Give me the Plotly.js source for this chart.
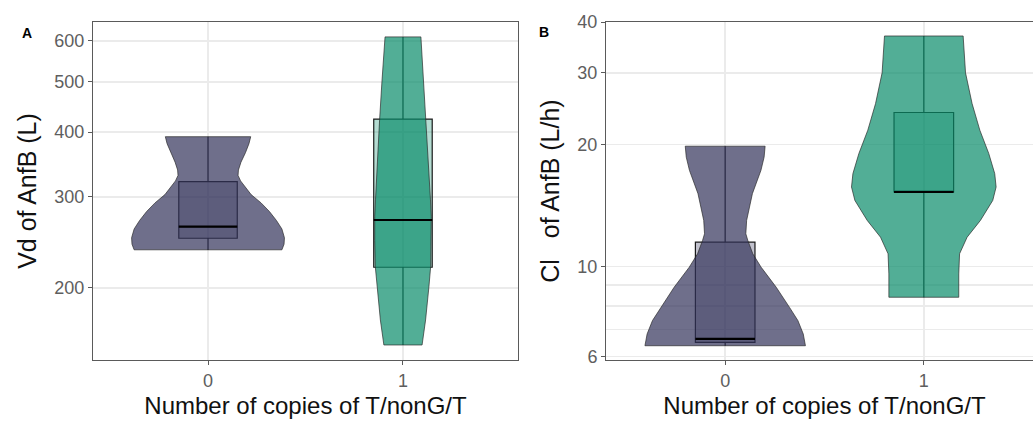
<!DOCTYPE html>
<html>
<head>
<meta charset="utf-8">
<script src="https://cdn.plot.ly/plotly-3.0.1.min.js"></script>
<style>
html,body{margin:0;padding:0;overflow:hidden;background:#fff;}
#chart{width:1045px;height:421px;}
</style>
</head>
<body>
<div id="chart"></div>
<script>
// ---------- data ----------
const categories = [0, 1];
const tickLabels = ['0', '1'];
const colors = ['#32325a', '#088b69'];

// Panel A: Vd of AnfB (L) — violin density profiles (value, half-width)
const vdViolinY0 = [392, 380, 365, 350, 338, 330, 322, 313, 303, 292, 281, 270, 260, 250, 243, 237];
const vdViolinW0 = [0.219, 0.210, 0.192, 0.169, 0.156, 0.154, 0.167, 0.192, 0.221, 0.272, 0.315, 0.351, 0.379, 0.392, 0.390, 0.379];
const vdViolinY1 = [611, 551, 500, 422, 353, 296, 275, 247, 220, 201, 173.5, 155.2];
const vdViolinW1 = [0.092, 0.099, 0.108, 0.120, 0.132, 0.141, 0.145, 0.145, 0.142, 0.133, 0.116, 0.098];
// Panel A box statistics per category
const vdQ1 = [249.5, 219.3];
const vdMedian = [262.7, 270.6];
const vdQ3 = [320.9, 424];
const vdLower = [236.8, 155.2];
const vdUpper = [392, 611];

// Panel B: Cl of AnfB (L/h)
const clViolinY0 = [19.79, 18.6, 17.26, 15.12, 12.99, 12.04, 11.59, 10.75, 9.96, 8.89, 7.93, 7.36, 6.82, 6.38];
const clViolinW0 = [0.201, 0.196, 0.180, 0.137, 0.108, 0.104, 0.114, 0.139, 0.181, 0.257, 0.324, 0.366, 0.393, 0.404];
const clViolinY1 = [36.98, 33.5, 30.0, 25.2, 21.67, 18.98, 16.94, 15.70, 14.55, 12.99, 11.81, 10.75, 9.59, 8.40];
const clViolinW1 = [0.198, 0.205, 0.210, 0.243, 0.282, 0.327, 0.357, 0.364, 0.347, 0.285, 0.218, 0.180, 0.176, 0.176];
const clQ1 = [6.50, 15.26];
const clMedian = [6.63, 15.26];
const clQ3 = [11.48, 23.96];
const clLower = [6.38, 8.40];
const clUpper = [19.79, 36.98];

const vdTicks = [200, 300, 400, 500, 600];
const clTicks = [6, 10, 20, 30, 40];
const clMinorTicks = [7, 8, 9];

// ---------- helpers ----------
function rgba(hex, a) {
  const r = parseInt(hex.slice(1, 3), 16), g = parseInt(hex.slice(3, 5), 16), b = parseInt(hex.slice(5, 7), 16);
  return `rgba(${r},${g},${b},${a})`;
}
function violinTrace(c, ys, ws, color, xa, ya) {
  const xs = [], yy = [];
  for (let i = 0; i < ys.length; i++) { xs.push(c + ws[i]); yy.push(ys[i]); }
  for (let i = ys.length - 1; i >= 0; i--) { xs.push(c - ws[i]); yy.push(ys[i]); }
  xs.push(xs[0]); yy.push(yy[0]);
  return {type: 'scatter', mode: 'lines', x: xs, y: yy, xaxis: xa, yaxis: ya,
    fill: 'toself', fillcolor: rgba(color, 0.7),
    line: {color: 'rgba(40,40,40,0.85)', width: 0.8, shape: 'linear'},
    hoverinfo: 'skip', showlegend: false};
}
function boxTrace(c, q1, med, q3, lo, hi, color, xa, ya) {
  return {type: 'box', x: [c], q1: [q1], median: [med], q3: [q3], lowerfence: [lo], upperfence: [hi],
    xaxis: xa, yaxis: ya, width: 0.3, whiskerwidth: 0, boxpoints: false,
    fillcolor: rgba(color, 0.3), line: {color: 'rgba(15,15,15,0.95)', width: 1.2},
    hoverinfo: 'skip', showlegend: false};
}
function medianTrace(c, med, xa, ya) {
  return {type: 'scatter', mode: 'lines', x: [c - 0.15, c + 0.15], y: [med, med], xaxis: xa, yaxis: ya,
    line: {color: '#000', width: 2.2}, hoverinfo: 'skip', showlegend: false};
}

const vdY = [vdViolinY0, vdViolinY1], vdW = [vdViolinW0, vdViolinW1];
const clY = [clViolinY0, clViolinY1], clW = [clViolinW0, clViolinW1];

const traces = [];
categories.forEach((c, i) => {
  traces.push(violinTrace(c, vdY[i], vdW[i], colors[i], 'x', 'y'));
  traces.push(boxTrace(c, vdQ1[i], vdMedian[i], vdQ3[i], vdLower[i], vdUpper[i], colors[i], 'x', 'y'));
  traces.push(medianTrace(c, vdMedian[i], 'x', 'y'));
  traces.push(violinTrace(c, clY[i], clW[i], colors[i], 'x2', 'y2'));
  traces.push(boxTrace(c, clQ1[i], clMedian[i], clQ3[i], clLower[i], clUpper[i], colors[i], 'x2', 'y2'));
  traces.push(medianTrace(c, clMedian[i], 'x2', 'y2'));
});

// ---------- layout ----------
const W = 1045, H = 421;
const gridC = '#ebebeb', lineC = '#5a5a5a', tickFont = {family: 'Liberation Sans, Arial, sans-serif', size: 18, color: '#5e5e5e'};
const titleFont = {family: 'Liberation Sans, Arial, sans-serif', size: 24, color: '#111'};
const yTitleFont = {family: 'Liberation Sans, Arial, sans-serif', size: 25, color: '#111'};
const yDom = [(H - 360) / H, (H - 22) / H];

function xAxis(dom, range) {
  return {domain: dom, range: range, tickvals: categories, ticktext: tickLabels, ticks: 'outside', ticklen: 4,
    tickcolor: lineC, showline: true, linecolor: lineC, linewidth: 1, mirror: true,
    showgrid: true, gridcolor: gridC, gridwidth: 1.5, zeroline: false, tickfont: tickFont,
    title: {text: 'Number of copies of T/nonG/T', font: titleFont, standoff: 7}, fixedrange: true};
}
function yAxis(range, ticks, title, anchor) {
  return {type: 'log', domain: yDom, range: range, tickvals: ticks, ticktext: ticks.map(String),
    ticks: 'outside', ticklen: 4, tickcolor: lineC, showline: true, linecolor: lineC, linewidth: 1, mirror: true,
    showgrid: true, gridcolor: gridC, gridwidth: 1.5, zeroline: false, tickfont: tickFont, anchor: anchor,
    title: {text: title, font: yTitleFont, standoff: 10}, fixedrange: true};
}

const layout = {
  width: W, height: H, margin: {l: 0, r: 0, t: 0, b: 0}, paper_bgcolor: '#fff', plot_bgcolor: '#fff',
  showlegend: false,
  xaxis: xAxis([93 / W, 518 / W], [-0.59, 1.59]),
  yaxis: yAxis([2.1619, 2.8148], vdTicks, 'Vd of AnfB (L)', 'x'),
  xaxis2: Object.assign(xAxis([606 / W, 1043 / W], [-0.6, 1.6]), {anchor: 'y2'}),
  yaxis2: Object.assign(yAxis([0.7697, 1.6024], clTicks, 'Cl   of AnfB (L/h)', 'x2'),
    {minor: {tickvals: clMinorTicks, showgrid: true, gridcolor: gridC, gridwidth: 1.5, ticklen: 0}}),
  annotations: [
    {text: '<b>A</b>', x: 20 / W, y: (H - 23) / H, xref: 'paper', yref: 'paper', showarrow: false,
      font: {family: 'Liberation Sans, Arial, sans-serif', size: 14, color: '#000'}},
    {text: '<b>B</b>', x: 543.5 / W, y: (H - 22) / H, xref: 'paper', yref: 'paper', showarrow: false,
      font: {family: 'Liberation Sans, Arial, sans-serif', size: 14, color: '#000'}}
  ]
};
layout.xaxis.anchor = 'y';

Plotly.newPlot('chart', traces, layout, {staticPlot: true, displayModeBar: false});
</script>
</body>
</html>
